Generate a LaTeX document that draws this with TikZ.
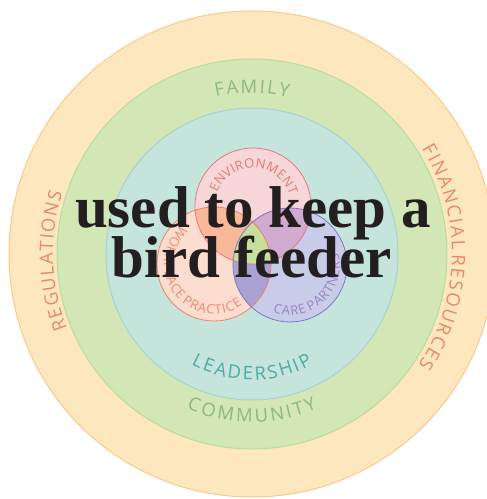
\documentclass[tikz,border=0pt]{standalone}
\usepackage{fontspec}
\usetikzlibrary{decorations.text,calc}
\newfontfamily\arcfont{Open Sans}
\newfontfamily\bigfont{Liberation Serif}
\newdimen\lsp
\definecolor{outerF}{HTML}{FDE7BF}
\definecolor{outerD}{HTML}{FBC98B}
\definecolor{greenF}{HTML}{D3E6B6}
\definecolor{greenD}{HTML}{B9DC9B}
\definecolor{tealF}{HTML}{C4E4DC}
\definecolor{tealD}{HTML}{A5D3CF}
\definecolor{pinkF}{HTML}{F6D6D8}
\definecolor{pinkD}{HTML}{E57A80}
\definecolor{peachF}{HTML}{FDDDD0}
\definecolor{peachD}{HTML}{F0806A}
\definecolor{blueF}{HTML}{C8CCE8}
\definecolor{blueD}{HTML}{7B78C0}
\definecolor{ovTL}{HTML}{F8B89A}
\definecolor{ovTR}{HTML}{D1AAD0}
\definecolor{ovLR}{HTML}{A9A2D2}
\definecolor{ovAll}{HTML}{C6DF9C}
\definecolor{famC}{HTML}{8DB880}
\definecolor{leadC}{HTML}{4FAAA5}
\definecolor{regC}{HTML}{E8896B}
\definecolor{envC}{HTML}{E07F6E}
\definecolor{workC}{HTML}{F08A70}
\definecolor{careC}{HTML}{9B85C5}
\definecolor{mainC}{HTML}{231F20}
\tikzset{
  arctext/.style n args={4}{decorate, decoration={text along path, text align=center,
     text color=#1, text={|\arcfont\fontsize{#2}{#2}\selectfont\global\lsp=#3|#4}}},
  arctextL/.style n args={4}{decorate, decoration={text along path, text align=left,
     text color=#1, text={|\arcfont\fontsize{#2}{#2}\selectfont\global\lsp=#3|#4}}},
  bigtext/.style={font=\bigfont\bfseries\fontsize{59}{59}\selectfont, anchor=base, text=mainC, inner sep=0pt}
}
\begin{document}
\begin{tikzpicture}[x=1pt,y=1pt]
\useasboundingbox (0,0) rectangle (487,499);
\coordinate (C) at (252,245);
\coordinate (T) at (253,293);
\coordinate (L) at (214,235);
\coordinate (R) at (290,234);
% rings
\draw[fill=outerF, draw=outerD, line width=1pt] (C) circle[radius=243];
\draw[fill=greenF, draw=greenD, line width=1pt] (C) circle[radius=195];
\draw[fill=tealF, draw=tealD, line width=1pt] (C) circle[radius=146];
% venn fills
\fill[pinkF] (T) circle[radius=58];
\fill[peachF] (L) circle[radius=57];
\fill[blueF] (R) circle[radius=57];
\begin{scope}
  \clip (T) circle[radius=58];
  \fill[ovTL] (L) circle[radius=57];
  \fill[ovTR] (R) circle[radius=57];
\end{scope}
\begin{scope}
  \clip (L) circle[radius=57];
  \fill[ovLR] (R) circle[radius=57];
\end{scope}
\begin{scope}
  \clip (T) circle[radius=58];
  \clip (L) circle[radius=57];
  \fill[ovAll] (R) circle[radius=57];
\end{scope}
\draw[pinkD, line width=0.8pt] (T) circle[radius=58];
\draw[peachD, line width=0.8pt] (L) circle[radius=57];
\draw[blueD, line width=0.8pt] (R) circle[radius=57];
% ring labels
\path[arctext={famC}{18.5}{2pt}{{F\kern\lsp}{A\kern\lsp}{M\kern\lsp}{I\kern\lsp}{L\kern\lsp}Y}]
  ($(C)+(180:161)$) arc[start angle=180, end angle=0, radius=161];
\path[arctext={famC}{18.5}{2.7pt}{{C\kern\lsp}{O\kern\lsp}{M\kern\lsp}{M\kern\lsp}{U\kern\lsp}{N\kern\lsp}{I\kern\lsp}{T\kern\lsp}Y}]
  ($(C)+(180:168)$) arc[start angle=180, end angle=360, radius=168];
\path[arctext={leadC}{18.5}{2.2pt}{{L\kern\lsp}{E\kern\lsp}{A\kern\lsp}{D\kern\lsp}{E\kern\lsp}{R\kern\lsp}{S\kern\lsp}{H\kern\lsp}{I\kern\lsp}P}]
  ($(C)+(180:126)$) arc[start angle=180, end angle=360, radius=126];
\path[arctext={regC}{18.5}{1.4pt}{{R\kern\lsp}{E\kern\lsp}{G\kern\lsp}{U\kern\lsp}{L\kern\lsp}{A\kern\lsp}{T\kern\lsp}{I\kern\lsp}{O\kern\lsp}{N\kern\lsp}S}]
  ($(C)+(242:199)$) arc[start angle=242, end angle=122, radius=199];
\path[arctext={regC}{18.5}{1.8pt}{{F\kern\lsp}{I\kern\lsp}{N\kern\lsp}{A\kern\lsp}{N\kern\lsp}{C\kern\lsp}{I\kern\lsp}{A\kern\lsp}L {R\kern\lsp}{E\kern\lsp}{S\kern\lsp}{O\kern\lsp}{U\kern\lsp}{R\kern\lsp}{C\kern\lsp}{E\kern\lsp}S}]
  ($(C)+(74:200)$) arc[start angle=74, end angle=-76, radius=200];
% venn labels
\path[arctext={envC}{13}{0.3pt}{{E\kern\lsp}{N\kern\lsp}{V\kern\lsp}{I\kern\lsp}{R\kern\lsp}{O\kern\lsp}{N\kern\lsp}{M\kern\lsp}{E\kern\lsp}{N\kern\lsp}T}]
  ($(T)+(180:38)$) arc[start angle=180, end angle=-4, radius=38];
\path[arctext={workC}{13}{0.9pt}{{W\kern\lsp}{O\kern\lsp}{R\kern\lsp}{K\kern\lsp}{P\kern\lsp}{L\kern\lsp}{A\kern\lsp}{C\kern\lsp}E {P\kern\lsp}{R\kern\lsp}{A\kern\lsp}{C\kern\lsp}{T\kern\lsp}{I\kern\lsp}{C\kern\lsp}E}]
  ($(L)+(120:50)$) arc[start angle=120, end angle=315, radius=50];
\path[arctextL={careC}{13}{0.9pt}{{C\kern\lsp}{A\kern\lsp}{R\kern\lsp}E {P\kern\lsp}{A\kern\lsp}{R\kern\lsp}{T\kern\lsp}{N\kern\lsp}{E\kern\lsp}{R\kern\lsp}S}]
  ($(R)+(250:50)$) arc[start angle=250, end angle=430, radius=50];
% main text
\node[bigtext] (line1) at (253,271) {used to keep a};
\node[bigtext] (line2) at (252,221) {bird feeder};
\end{tikzpicture}
\end{document}
